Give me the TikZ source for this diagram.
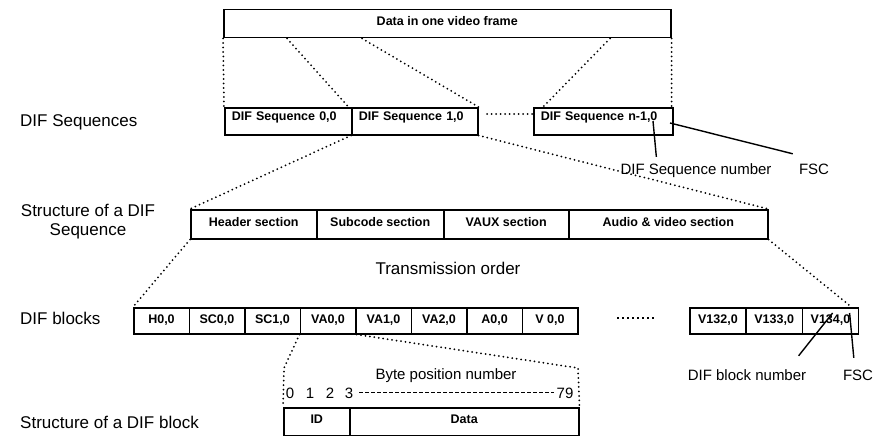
\documentclass[tikz,border=0pt]{standalone}
\usepackage{fontspec}
\setmainfont{Liberation Sans}
\usetikzlibrary{calc}
\begin{document}
\begin{tikzpicture}[x=1pt,y=-1pt,
  box/.style={draw,line width=1.5pt,anchor=north west,inner sep=0pt,
    font=\fontsize{12.5}{15}\selectfont\bfseries,text height=9.5pt,text depth=5pt},
  seqbox/.style={box,inner xsep=7pt,align=left,text depth=11pt},
  lab/.style={inner sep=0pt,font=\fontsize{17}{18.5}\selectfont,text height=12pt,text depth=3.5pt},
  ann/.style={inner sep=0pt,font=\fontsize{15}{17}\selectfont,text height=11pt,text depth=3pt},
  dots/.style={line width=2pt,line cap=round,dash pattern=on 0pt off 4.5pt},
  fdots/.style={line width=1.6pt,dash pattern=on 2pt off 3pt},
  bdash/.style={line width=1.3pt,dash pattern=on 3.5pt off 2.5pt},
  wire/.style={line width=1.4pt}]
\fill[white] (0,0) rectangle (881,436);
\useasboundingbox (0,0) rectangle (881,436);

% top frame
\node[box,minimum width=447pt,minimum height=28pt] (frame) at (223,9) {Data in one video frame};

% DIF sequences
\node[lab,anchor=west] (lseq) at (20,122) {DIF Sequences};
\node[seqbox,text width=113pt,minimum height=27pt] (s0) at (224,107) {DIF Sequence 0,0};
\node[seqbox,text width=112pt,minimum height=27pt] (s1) at (351,107) {DIF Sequence 1,0};
\node[seqbox,text width=125pt,minimum height=27pt] (sn) at (533,107) {DIF Sequence n-1,0};

\draw[dots] (frame.south west) -- (s0.north west);
\draw[dots] ([xshift=64pt]frame.south west) -- ([xshift=-4pt]s0.north east);
\draw[dots] ([xshift=139pt]frame.south west) -- (s1.north east);
\draw[dots] ([xshift=387pt]frame.south west) -- ([xshift=10pt]sn.north west);
\draw[dots] (frame.south east) -- ([xshift=-2pt]sn.north east);
\coordinate (dl) at (487,114);
\draw[dots] (dl) -- (sn.west |- dl);

\node[ann] (seqnum) at (696,170) {DIF Sequence number};
\node[ann] (fsca) at (814,170) {FSC};
\draw[wire] ([xshift=120pt,yshift=-14pt]sn.north west) -- ([xshift=36pt,yshift=6pt]seqnum.north west);
\draw[wire] ([xshift=137pt,yshift=-16pt]sn.north west) -- ([xshift=-6pt,yshift=9pt]fsca.north west);

% structure of a DIF sequence
\node[lab,align=center] (lstruct) at (88,231) {Structure of a DIF\\Sequence};
\node[box,minimum width=126pt,minimum height=29pt] (hdr) at (190,209) {Header section};
\node[box,minimum width=127pt,minimum height=29pt] (sub) at (316,209) {Subcode section};
\node[box,minimum width=125pt,minimum height=29pt] (vaux) at (443,209) {VAUX section};
\node[box,minimum width=199pt,minimum height=29pt] (av) at (568,209) {Audio \& video section};

\draw[dots] (s1.south west) -- (hdr.north west);
\draw[dots] (s1.south east) -- (av.north east);

\node[lab] (trans) at (448,270) {Transmission order};

% DIF blocks
\node[lab,anchor=west] (lblk) at (20,320) {DIF blocks};
\node[box,minimum width=55.5pt,minimum height=26pt] (h0) at (133,307) {H0,0};
\node[box,minimum width=55.5pt,minimum height=26pt] (sc0) at (188.5,307) {SC0,0};
\node[box,minimum width=55.5pt,minimum height=26pt] (sc1) at (244,307) {SC1,0};
\node[box,minimum width=55.5pt,minimum height=26pt] (va0) at (299.5,307) {VA0,0};
\node[box,minimum width=55.5pt,minimum height=26pt] (va1) at (355,307) {VA1,0};
\node[box,minimum width=55.5pt,minimum height=26pt] (va2) at (410.5,307) {VA2,0};
\node[box,minimum width=55.5pt,minimum height=26pt] (a0) at (466,307) {A0,0};
\node[box,minimum width=55.5pt,minimum height=26pt] (v0) at (521.5,307) {V 0,0};
\coordinate (e1) at (617,318);
\coordinate (e2) at (655,318);
\draw[fdots] (e1) -- (e2);
\node[box,minimum width=56.3pt,minimum height=26pt] (v132) at (689,307) {V132,0};
\node[box,minimum width=56.3pt,minimum height=26pt] (v133) at (745.3,307) {V133,0};
\node[box,minimum width=56.3pt,minimum height=26pt] (v134) at (801.6,307) {V134,0};

\draw[dots] (hdr.south west) -- (h0.north west);
\draw[dots] (av.south east) -- ([xshift=-8pt]v134.north east);

\node[ann] (blknum) at (747,376) {DIF block number};
\node[ann] (fscb) at (858,376) {FSC};
\draw[wire] ([xshift=31pt,yshift=-6pt]v134.north west) -- ([xshift=111pt,yshift=13pt]blknum.north west);
\draw[wire] ([xshift=48pt,yshift=-6pt]v134.north west) -- ([xshift=11pt,yshift=11pt]fscb.north west);

% structure of a DIF block
\node[lab,anchor=west] (lstb) at (20,424) {Structure of a DIF block};
\node[box,minimum width=66pt,minimum height=27.5pt] (id) at (283,407) {ID};
\node[box,minimum width=229pt,minimum height=27.5pt] (data) at (349,407) {Data};
\coordinate (kl) at (284,368);
\coordinate (kr) at (578,368);
\draw[dots] (va0.south west) -- (kl) -- (id.north west);
\draw[dots] (va0.south east) -- (kr) -- (data.north east);

\node[ann] (bpn) at (446,375) {Byte position number};
\node[ann] (d0) at (290,394) {0};
\node[ann] (d1) at (310,394) {1};
\node[ann] (d2) at (330,394) {2};
\node[ann] (d3) at (349,394) {3};
\node[ann] (d79) at (565,394) {79};
\draw[bdash] ([xshift=6pt,yshift=1.5pt]d3.east) -- ([xshift=-2pt,yshift=1.5pt]d79.west);
\end{tikzpicture}
\end{document}
